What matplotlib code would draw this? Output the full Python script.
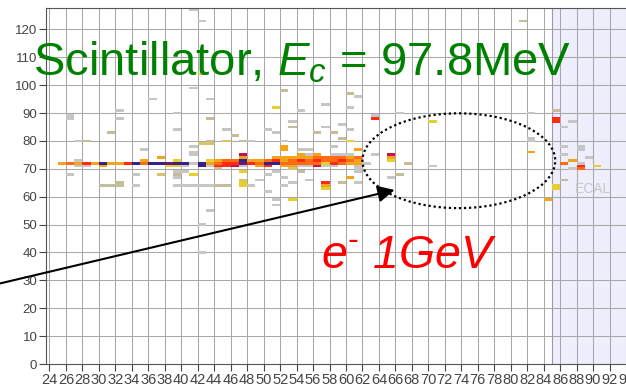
import numpy as np
import matplotlib
matplotlib.use('Agg')
import matplotlib.pyplot as plt
from matplotlib.colors import ListedColormap, BoundaryNorm
from matplotlib.patches import Ellipse

# hits: x, y (cell position), energy level 1..10
hit_x = [25, 26, 27, 28, 29, 30, 31, 32, 33, 34, 35, 36, 37, 38, 39,
         27, 28, 30, 38, 39, 27, 35, 39,
         40, 41, 42, 43, 44, 45, 46, 47, 48, 49, 50, 51, 52, 53,
         43, 44, 45, 46, 47, 48, 49, 50, 51, 52, 53,
         40, 42, 43, 44, 45, 46, 47, 49, 50, 52, 53,
         47, 51, 52, 53, 47, 52, 52,
         54, 55, 56, 57, 58, 59, 60, 61, 62,
         54, 55, 56, 57, 58, 59, 60, 61,
         54, 55, 56, 57, 58, 59, 60, 61,
         54, 55, 56, 58, 59, 60,
         54, 55, 56, 57, 58, 61,
         26, 26, 36, 41, 42, 41, 32, 32, 31, 27, 28, 35, 39, 39, 41, 41, 42, 43, 43, 43, 42, 37,
         26, 30, 31, 32, 32, 34, 34, 37, 39, 39, 40, 41, 39, 40, 41, 42, 43, 39,
         44, 47, 44, 45, 47, 47, 47, 49, 50, 51, 52, 53, 50, 53, 52, 48, 43, 42, 42, 51, 51,
         41, 45, 46, 48, 47, 45, 43, 50, 51, 53, 53, 52, 52, 51, 54,
         57, 60, 60, 61, 63, 63, 66, 59, 57, 56, 58, 60, 59, 60, 58, 61, 54, 55, 63, 65, 65, 65,
         67, 61, 61, 55, 59, 60, 57, 57, 57, 65, 66, 54, 53, 61,
         81, 82, 70, 85, 85, 85, 86, 87, 82, 82, 82, 70, 86, 86, 88, 88, 86, 87, 88, 88, 88, 87,
         89, 90, 86, 85, 85, 84]
hit_y = [72, 72, 72, 72, 72, 72, 72, 72, 72, 72, 72, 72, 72, 72, 72,
         71, 71, 71, 71, 71, 73, 73, 73,
         72, 72, 72, 72, 72, 72, 72, 72, 72, 72, 72, 72, 72, 72,
         73, 73, 73, 73, 73, 73, 73, 73, 73, 73, 73,
         71, 71, 71, 71, 71, 71, 71, 71, 71, 71, 71,
         74, 74, 74, 74, 75, 77, 78,
         72, 72, 72, 72, 72, 72, 72, 72, 72,
         73, 73, 73, 73, 73, 73, 73, 73,
         74, 74, 74, 74, 74, 74, 74, 74,
         75, 75, 75, 75, 75, 75,
         71, 71, 71, 71, 71, 71,
         88, 89, 95, 127, 123, 99, 91, 88, 83, 80, 80, 77, 84, 90, 78, 75, 79, 80, 88, 95, 104, 74,
         68, 64, 64, 65, 64, 68, 64, 68, 68, 67, 69, 68, 64, 64, 64, 64, 64, 69,
         70, 69, 64, 64, 66, 65, 64, 66, 68, 69, 67, 70, 62, 59, 64, 64, 55, 50, 40, 59, 57,
         76, 84, 82, 80, 80, 80, 79, 84, 83, 85, 87, 80, 98, 92, 91,
         93, 92, 97, 96, 89, 88, 90, 86, 85, 83, 83, 84, 81, 80, 78, 77, 77, 77, 75, 75, 74, 73,
         72, 69, 70, 66, 65, 67, 65, 64, 63, 67, 68, 69, 65, 65,
         123, 90, 87, 91, 88, 87, 85, 87, 81, 80, 76, 71, 78, 75, 78, 77, 72, 73, 72, 71, 70, 70,
         74, 71, 66, 64, 63, 59]
hit_e = [5, 6, 5, 7, 5, 10, 5, 5, 7, 10, 6, 10, 10, 9, 10,
         1, 1, 5, 4, 4, 1, 5, 4,
         10, 1, 10, 5, 6, 7, 7, 9, 7, 6, 10, 10, 6, 6,
         4, 5, 6, 6, 10, 5, 5, 6, 7, 5, 6,
         1, 10, 1, 7, 7, 8, 1, 5, 7, 5, 5,
         5, 5, 5, 5, 8, 5, 5,
         6, 6, 6, 4, 7, 6, 5, 5, 1,
         7, 6, 7, 6, 6, 7, 6, 5,
         5, 5, 6, 6, 6, 6, 5, 6,
         5, 1, 5, 1, 1, 1,
         1, 1, 8, 1, 1, 1,
         1, 1, 1, 1, 1, 1, 1, 1, 2, 1, 2, 1, 1, 1, 1, 1, 3, 2, 2, 1, 4, 5,
         1, 2, 2, 2, 2, 1, 1, 3, 2, 1, 1, 4, 1, 1, 1, 1, 1, 1,
         2, 4, 2, 2, 3, 4, 4, 1, 1, 1, 1, 3, 1, 4, 1, 1, 1, 1, 1, 1, 1,
         1, 1, 2, 1, 2, 3, 3, 1, 1, 2, 1, 1, 2, 4, 1,
         1, 1, 2, 1, 1, 7, 1, 1, 1, 2, 2, 1, 2, 4, 1, 5, 1, 1, 1, 8, 5, 4,
         2, 1, 1, 1, 2, 5, 7, 5, 4, 1, 2, 2, 1, 1,
         2, 1, 4, 2, 7, 7, 1, 1, 1, 1, 5, 1, 1, 1, 1, 1, 6, 5, 1, 7, 6, 1,
         1, 4, 2, 4, 4, 5]

x_ticks = list(range(24, 96, 2))
y_ticks = list(range(0, 130, 10))
ecal_start = 85


def make_plot():
    plt.rcParams['font.family'] = ['Liberation Sans', 'DejaVu Sans']
    plt.rcParams['mathtext.fontset'] = 'custom'
    plt.rcParams['mathtext.rm'] = 'Liberation Sans'
    plt.rcParams['mathtext.it'] = 'Liberation Sans:italic'

    fig = plt.figure(figsize=(6.26, 3.85), dpi=100)
    ax = fig.add_axes([0.073, 0.0545, 0.927, 0.9235])

    # colour levels of the hits
    cmap = ListedColormap(['#c6c6c6', '#c4bd9c', '#d4c46a', '#e8cf30', '#f2a51c',
                           '#ff6a12', '#ff2a14', '#c8124a', '#6a1a70', '#36208a'])
    norm = BoundaryNorm(np.arange(0.5, 11.5, 1), cmap.N)

    ax.axvspan(ecal_start, 100, color='#eeeefc', zorder=0.2, lw=0)
    ax.axvline(ecal_start, color='#9a9aaa', lw=0.8, zorder=0.6)

    ax.bar(hit_x, 1.0, width=1.0, bottom=np.array(hit_y) - 0.5, align='edge',
           color=cmap(norm(hit_e)), linewidth=0, zorder=2)

    ax.set_xlim(23.54, 94.0)
    ax.set_ylim(0, 127.5)
    ax.set_xticks(x_ticks)
    ax.set_yticks(y_ticks)
    ax.set_axisbelow(True)
    ax.grid(True, color='#a8a8a8', lw=0.75)
    ax.tick_params(axis='x', labelsize=10.5, length=5, pad=1.5, colors='#444444')
    ax.tick_params(axis='y', labelsize=9.5, length=5, pad=1, colors='#444444')
    for s in ['left', 'bottom', 'top']:
        ax.spines[s].set_color('#555555')
    ax.spines['right'].set_visible(False)

    ax.text(90.0, 61.4, 'ECAL', color='#c8c8c8', fontsize=10, ha='center', va='baseline')

    # ellipse + arrow
    ax.add_patch(Ellipse((73.7, 72.9), 23.4, 34, fill=False, ec='black', lw=1.6,
                         ls=(0, (1, 1.3)), zorder=3))
    ax.annotate('', xy=(65.9, 62.4), xytext=(18.0, 28.9), annotation_clip=False,
                arrowprops=dict(arrowstyle='-|>', color='black', lw=1.5, mutation_scale=25,
                                shrinkA=0, shrinkB=0))

    fig.text(0.0527, 0.8026, 'Scintillator, $E_c$ = 97.8MeV', color='#008000',
             fontsize=34, ha='left', va='baseline')
    fig.text(0.513, 0.303, r'e$^{\text{-}}$ 1GeV', color='#ff0000', style='italic',
             fontsize=33.5, ha='left', va='baseline')

    plt.savefig('out.png', dpi=100)
    plt.close()


if __name__ == '__main__':
    make_plot()
